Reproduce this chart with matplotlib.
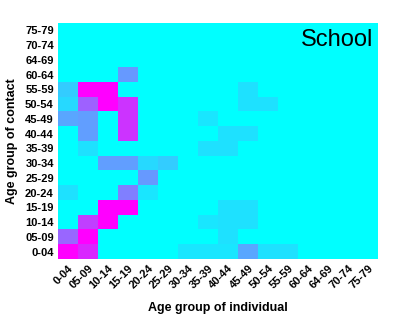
import matplotlib
matplotlib.use("Agg")
import matplotlib.pyplot as plt
import numpy as np

plt.rcParams['font.family'] = ['Liberation Sans', 'DejaVu Sans']

age_groups = ["0-04", "05-09", "10-14", "15-19", "20-24", "25-29", "30-34", "35-39",
              "40-44", "45-49", "50-54", "55-59", "60-64", "64-69", "70-74", "75-79"]

# rows = age group of contact (0-04 first), cols = age group of individual
rows = {
    "0-04":  [1.0, 0.85, 0, 0, 0, 0, 0.1, 0.1, 0.1, 0.35, 0.12, 0.12, 0, 0, 0, 0],
    "05-09": [0.6, 1.0, 0, 0, 0, 0, 0, 0, 0.12, 0, 0, 0, 0, 0, 0, 0],
    "10-14": [0, 0.75, 1.0, 0, 0, 0, 0, 0.1, 0.12, 0.12, 0, 0, 0, 0, 0, 0],
    "15-19": [0, 0, 1.0, 1.0, 0, 0, 0, 0, 0.12, 0.12, 0, 0, 0, 0, 0, 0],
    "20-24": [0.12, 0, 0, 0.5, 0.1, 0, 0, 0, 0, 0, 0, 0, 0, 0, 0, 0],
    "25-29": [0, 0, 0, 0, 0.4, 0, 0, 0, 0, 0, 0, 0, 0, 0, 0, 0],
    "30-34": [0, 0, 0.38, 0.38, 0.15, 0.2, 0, 0, 0, 0, 0, 0, 0, 0, 0, 0],
    "35-39": [0, 0.12, 0, 0, 0, 0, 0, 0.12, 0.12, 0, 0, 0, 0, 0, 0, 0],
    "40-44": [0, 0.38, 0, 0.8, 0, 0, 0, 0, 0.12, 0.12, 0, 0, 0, 0, 0, 0],
    "45-49": [0.35, 0.38, 0, 0.8, 0, 0, 0, 0.1, 0, 0, 0, 0, 0, 0, 0, 0],
    "50-54": [0.15, 0.62, 1.0, 0.8, 0, 0, 0, 0, 0, 0.12, 0.12, 0, 0, 0, 0, 0],
    "55-59": [0.2, 1.0, 1.0, 0, 0, 0, 0, 0, 0, 0.12, 0, 0, 0, 0, 0, 0],
    "60-64": [0, 0, 0, 0.4, 0, 0, 0, 0, 0, 0, 0, 0, 0, 0, 0, 0],
    "64-69": [0] * 16,
    "70-74": [0] * 16,
    "75-79": [0] * 16,
}

matrix = np.array([rows[a] for a in age_groups])

fig = plt.figure(figsize=(4.2, 3.15), dpi=100)
ax = fig.add_axes([0.138, 0.178, 0.762, 0.749])
ax.pcolormesh(matrix, cmap="cool", vmin=0, vmax=1)

ax.set_xticks(np.arange(16) + 0.5)
ax.set_xticklabels(age_groups, rotation=45, ha="right", rotation_mode="anchor",
                   fontsize=8, fontweight="bold")
ax.set_yticks(np.arange(16) + 0.5)
ax.set_yticklabels(age_groups, fontsize=8, fontweight="bold")
ax.tick_params(length=0, pad=3)
for s in ax.spines.values():
    s.set_visible(False)

ax.set_xlabel("Age group of individual", fontsize=9, fontweight="bold", labelpad=8)
ax.set_ylabel("Age group of contact", fontsize=9, fontweight="bold", labelpad=5)
ax.text(0.985, 0.975, "School", transform=ax.transAxes, ha="right", va="top", fontsize=17)

fig.savefig("out.png", dpi=100)
